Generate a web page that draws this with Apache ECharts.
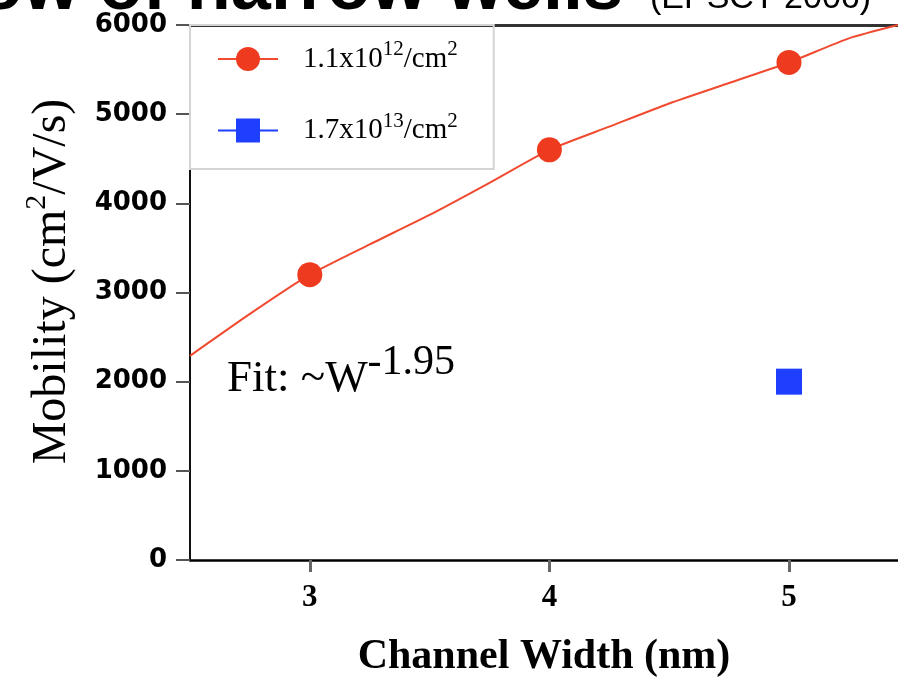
<!DOCTYPE html>
<html><head><meta charset="utf-8">
<script src="https://cdn.jsdelivr.net/npm/echarts@6/dist/echarts.min.js"></script>
<style>html,body{margin:0;padding:0;background:#fff}#c{width:898px;height:683px}</style>
</head><body><div id="c"></div>
<script>
// measured data
const widths = [3, 4, 5];
const mobilityLow = [3200, 4600, 5580];
const widthsHigh = [5];
const mobilityHigh = [2000];
// fit curve
const fitX = [2.5, 2.75, 3.25, 3.5, 3.75, 4.25, 4.5, 4.75, 5.25, 5.455];
const fitY = [2290, 2760, 3540, 3870, 4230, 4860, 5120, 5350, 5850, 6000];
const xTickValues = [3, 4, 5];
const seriesNames = ['1.1x10^12/cm^2', '1.7x10^13/cm^2'];
const legendLabels = {
  '1.1x10^12/cm^2': '{g|}{n|1.1x10}{s|12}{n|/cm}{s|2}',
  '1.7x10^13/cm^2': '{g|}{n|1.7x10}{s|13}{n|/cm}{s|2}'
};

const redData = [];
fitX.forEach((x, i) => redData.push({ value: [x, fitY[i]], symbol: 'none' }));
widths.forEach((x, i) => redData.push({ value: [x, mobilityLow[i]] }));
redData.sort((a, b) => a.value[0] - b.value[0]);
const blueData = widthsHigh.map((x, i) => [x, mobilityHigh[i]]);

const chart = echarts.init(document.getElementById('c'), null, { renderer: 'canvas' });
chart.setOption({
  animation: false,
  backgroundColor: '#fff',
  grid: { left: 190, right: 0, top: 25, bottom: 115 },
  xAxis: [{
    type: 'value', min: 2.5, max: 5.455,
    axisLine: { show: true, onZero: false, lineStyle: { color: '#000', width: 2.5 } },
    axisTick: { show: true, customValues: xTickValues, length: 12, lineStyle: { color: '#666', width: 3 } },
    axisLabel: { customValues: xTickValues, margin: 22, fontFamily: 'Liberation Serif', fontWeight: 'bold', fontSize: 31, color: '#000' },
    splitLine: { show: false },
    name: 'Channel Width (nm)', nameLocation: 'middle', nameGap: 76,
    nameTextStyle: { fontFamily: 'Liberation Serif', fontWeight: 'bold', fontSize: 42, color: '#000' }
  }, {
    type: 'value', position: 'top', min: 2.5, max: 5.455,
    axisLine: { show: true, onZero: false, lineStyle: { color: '#333', width: 3 } },
    axisTick: { show: false }, axisLabel: { show: false }, splitLine: { show: false }
  }],
  yAxis: {
    type: 'value', min: 0, max: 6000, interval: 1000,
    axisLine: { show: true, onZero: false, lineStyle: { color: '#111', width: 2 } },
    axisTick: { show: true, length: 14, lineStyle: { color: '#555', width: 2 } },
    axisLabel: { margin: 23, fontFamily: 'DejaVu Sans', fontWeight: 'bold', fontSize: 26, color: '#000', formatter: v => String(v) },
    splitLine: { show: false },
    name: '{n|Mobility (cm}{s|2}{n|/V/s)}', nameLocation: 'middle', nameRotate: 90, nameGap: 108,
    nameTextStyle: {
      color: '#000', padding: [0, 0, 0, 22],
      rich: {
        n: { fontFamily: 'Liberation Serif', fontSize: 48, lineHeight: 60, color: '#000' },
        s: { fontFamily: 'Liberation Serif', fontSize: 30, lineHeight: 38, verticalAlign: 'top', color: '#000' }
      }
    }
  },
  legend: {
    orient: 'vertical', left: 190, top: 25,
    padding: [14, 36, 24, 27], itemGap: 37, itemWidth: 60, itemHeight: 30,
    borderColor: '#d4d4d4', borderWidth: 2, selectedMode: false,
    data: seriesNames,
    formatter: n => legendLabels[n],
    textStyle: {
      rich: {
        g: { width: 20 },
        n: { fontFamily: 'Liberation Serif', fontSize: 29, lineHeight: 40, color: '#000' },
        s: { fontFamily: 'Liberation Serif', fontSize: 21, lineHeight: 25, verticalAlign: 'top', color: '#000' }
      }
    }
  },
  graphic: [
    { type: 'text', z: 10, style: { text: 'ow of narrow wells', x: 623, y: -11, textAlign: 'right', textVerticalAlign: 'middle', font: 'bold 72px "Liberation Sans"', fill: '#000' } },
    { type: 'text', z: 10, style: { text: '(EPSCT 2006)', x: 650, y: -1, textAlign: 'left', textVerticalAlign: 'middle', font: '34px "Liberation Sans"', fill: '#000' } },
    { type: 'text', z: 10, style: {
        text: '{a|Fit: ~W}{b|-1.95}', x: 227, y: 342, textAlign: 'left', textVerticalAlign: 'top',
        rich: {
          a: { fontFamily: 'Liberation Serif', fontSize: 45, lineHeight: 74, fill: '#000', color: '#000' },
          b: { fontFamily: 'Liberation Serif', fontSize: 42, lineHeight: 50, verticalAlign: 'top', fill: '#000', color: '#000' }
        }
      } }
  ],
  series: [{
    name: seriesNames[0], type: 'line', data: redData, smooth: 0.2,
    symbol: 'circle', symbolSize: 25,
    itemStyle: { color: '#ee3b20' },
    lineStyle: { color: '#f04a30', width: 2 }
  }, {
    name: seriesNames[1], type: 'line', data: blueData,
    symbol: 'rect', symbolSize: 26,
    itemStyle: { color: '#1f3fff' },
    lineStyle: { color: '#1f3fff', width: 2 }
  }]
});
</script></body></html>
